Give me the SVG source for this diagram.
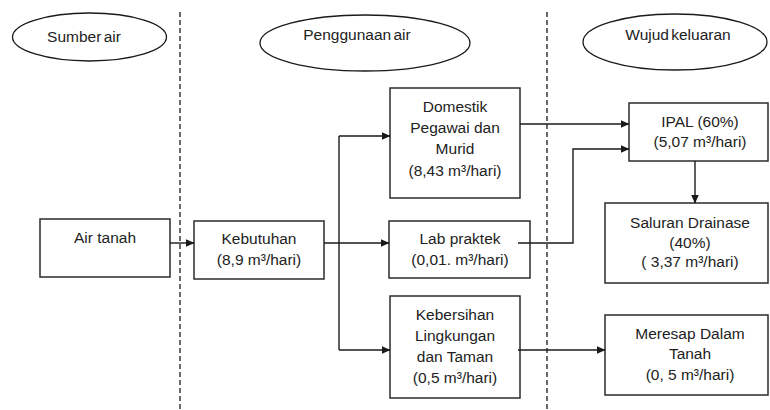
<svg xmlns="http://www.w3.org/2000/svg" width="770" height="410" viewBox="0 0 770 410">
  <defs>
    <marker id="arr" markerWidth="9" markerHeight="8" refX="8.5" refY="4" orient="auto" markerUnits="userSpaceOnUse">
      <path d="M0,0 L9,4 L0,8 z" fill="#1a1a1a"/>
    </marker>
    <style>
      text { font-family: "Liberation Sans", Arial, sans-serif; font-size: 15.5px; fill: #222; text-anchor: middle; }
      .hdr { font-size: 15.5px; word-spacing: -2px; }
      .box { fill: #fff; stroke: #2b2b2b; stroke-width: 1.5; }
      .ell { fill: #fff; stroke: #1a1a1a; stroke-width: 1.3; }
      .sep { stroke: #1a1a1a; stroke-width: 1.3; stroke-dasharray: 5 3; fill: none; }
      .con { stroke: #1a1a1a; stroke-width: 1.4; fill: none; }
    </style>
  </defs>
  <rect width="770" height="410" fill="#fff"/>

  <g id="separators">
    <line class="sep" x1="180" y1="12" x2="180" y2="410"/>
    <line class="sep" x1="547" y1="12" x2="547" y2="410"/>
  </g>

  <g id="hdr-sumber">
    <ellipse class="ell" cx="89.5" cy="37" rx="77" ry="24"/>
    <text class="hdr" x="84" y="42">Sumber air</text>
  </g>
  <g id="hdr-penggunaan">
    <ellipse class="ell" cx="365" cy="43" rx="105" ry="28"/>
    <text class="hdr" x="357" y="40">Penggunaan air</text>
  </g>
  <g id="hdr-wujud">
    <ellipse class="ell" cx="675" cy="42" rx="92" ry="28"/>
    <text class="hdr" x="678" y="40">Wujud keluaran</text>
  </g>

  <g id="air-tanah">
    <rect class="box" x="40" y="219" width="130" height="58"/>
    <text x="105" y="243">Air tanah</text>
  </g>
  <g id="kebutuhan">
    <rect class="box" x="194" y="221" width="130" height="58"/>
    <text x="259" y="244">Kebutuhan</text>
    <text x="259" y="265">(8,9 m³/hari)</text>
  </g>
  <g id="domestik">
    <rect class="box" x="390" y="88" width="130" height="110"/>
    <text x="455" y="112">Domestik</text>
    <text x="455" y="133">Pegawai dan</text>
    <text x="455" y="154">Murid</text>
    <text x="455" y="176">(8,43 m³/hari)</text>
  </g>
  <g id="lab-praktek">
    <rect class="box" x="389" y="221" width="141" height="57"/>
    <text x="460" y="244">Lab praktek</text>
    <text x="460" y="265">(0,01. m³/hari)</text>
  </g>
  <g id="kebersihan">
    <rect class="box" x="390" y="296" width="130" height="102"/>
    <text x="455" y="320">Kebersihan</text>
    <text x="455" y="341">Lingkungan</text>
    <text x="455" y="362">dan Taman</text>
    <text x="455" y="383">(0,5 m³/hari)</text>
  </g>
  <g id="ipal">
    <rect class="box" x="629" y="103" width="139" height="58"/>
    <text x="700" y="127">IPAL (60%)</text>
    <text x="700" y="147">(5,07 m³/hari)</text>
  </g>
  <g id="saluran">
    <rect class="box" x="605" y="203" width="163" height="80"/>
    <text x="690" y="228">Saluran Drainase</text>
    <text x="690" y="248">(40%)</text>
    <text x="690" y="267">( 3,37 m³/hari)</text>
  </g>
  <g id="meresap">
    <rect class="box" x="605" y="315" width="163" height="80"/>
    <text x="690" y="339">Meresap Dalam</text>
    <text x="690" y="359">Tanah</text>
    <text x="690" y="380">(0, 5 m³/hari)</text>
  </g>

  <g id="connectors">
    <path class="con" d="M170,243 H194" marker-end="url(#arr)"/>
    <path class="con" d="M324,243 H389" marker-end="url(#arr)"/>
    <path class="con" d="M339,136 V350"/>
    <path class="con" d="M339,136 H390" marker-end="url(#arr)"/>
    <path class="con" d="M339,350 H390" marker-end="url(#arr)"/>
    <path class="con" d="M520,124 H629" marker-end="url(#arr)"/>
    <path class="con" d="M518,243 H573 V149 H629" marker-end="url(#arr)"/>
    <path class="con" d="M695,161 V203" marker-end="url(#arr)"/>
    <path class="con" d="M518,350 H605" marker-end="url(#arr)"/>
  </g>
</svg>
